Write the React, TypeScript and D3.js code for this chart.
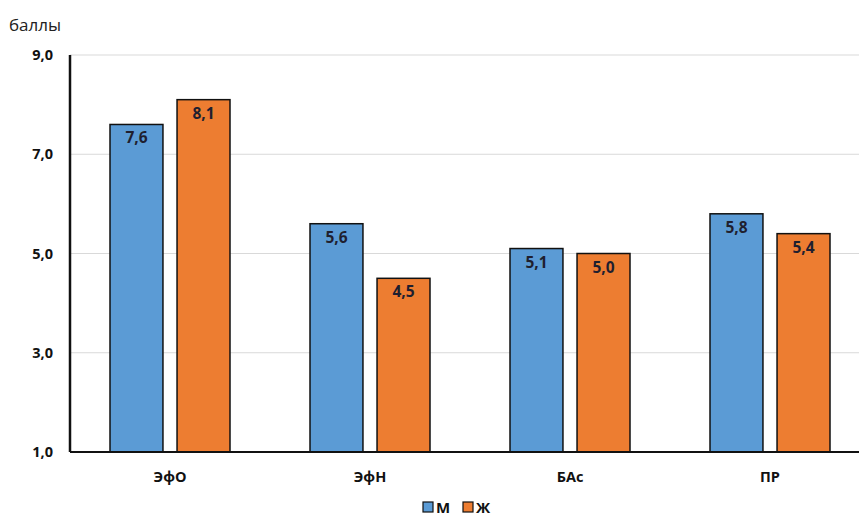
import React from "react";
import * as d3 from "d3";

const categories = ["ЭфО", "ЭфН", "БАс", "ПР"];
const seriesNames = ["М", "Ж"];
const valuesM = [7.6, 5.6, 5.1, 5.8];
const valuesF = [8.1, 4.5, 5.0, 5.4];
const yTicks = [1, 3, 5, 7, 9];
const colors = ["#5B9BD5", "#ED7D31"];

const W = 859;
const H = 516;
const left = 70;
const right = 870;
const top = 55;
const bottom = 452;

const fmt = (v: number) => v.toFixed(1).replace(".", ",");

export default function App() {
  const x = d3.scaleBand<string>().domain(categories).range([left, right]).paddingInner(0).paddingOuter(0);
  const x1 = d3.scaleBand<string>().domain(seriesNames).range([40, 160]).paddingInner(0.21);
  const y = d3.scaleLinear().domain([1, 9]).range([bottom, top]);
  const series = [valuesM, valuesF];
  const font = "'Open Sans', 'Noto Sans', sans-serif";

  return (
    <svg width={W} height={H} style={{ position: "fixed", left: 0, top: 0, background: "#fff" }} fontFamily={font}>
      <text x={9} y={31} fontSize={17} fill="#222">баллы</text>
      {yTicks.map((t) => (
        <g key={t}>
          {t > 1 && <line x1={left} x2={right} y1={y(t)} y2={y(t)} stroke="#d9d9d9" strokeWidth={1.2} />}
          <text x={53} y={y(t)} dy="0.35em" textAnchor="end" fontSize={14.5} fontWeight="bold" fill="#111">{fmt(t)}</text>
        </g>
      ))}
      {categories.map((c, i) => (
        <g key={c} transform={`translate(${x(c)},0)`}>
          {series.map((vals, s) => {
            const bx = x1(seriesNames[s])!;
            const bw = x1.bandwidth();
            const yv = y(vals[i]);
            return (
              <g key={s}>
                <rect x={bx} y={yv} width={bw} height={bottom - yv} fill={colors[s]} stroke="#111" strokeWidth={1.5} />
                <text x={bx + bw / 2} y={yv + 19} textAnchor="middle" fontSize={15.5} fontWeight="bold" fill="#1f1f2f">{fmt(vals[i])}</text>
              </g>
            );
          })}
          <text x={x.bandwidth() / 2} y={482} textAnchor="middle" fontSize={14.5} fontWeight="bold" fill="#111">{c}</text>
        </g>
      ))}
      <line x1={left} x2={right} y1={bottom} y2={bottom} stroke="#111" strokeWidth={2} />
      <line x1={left} x2={left} y1={top} y2={bottom} stroke="#111" strokeWidth={2.5} />
      {seriesNames.map((n, s) => (
        <g key={n} transform={`translate(${423 + s * 40},0)`}>
          <rect x={0} y={502} width={10} height={10} fill={colors[s]} stroke="#111" strokeWidth={1.2} />
          <text x={13} y={513} fontSize={15} fontWeight="bold" fill="#111">{n}</text>
        </g>
      ))}
    </svg>
  );
}
